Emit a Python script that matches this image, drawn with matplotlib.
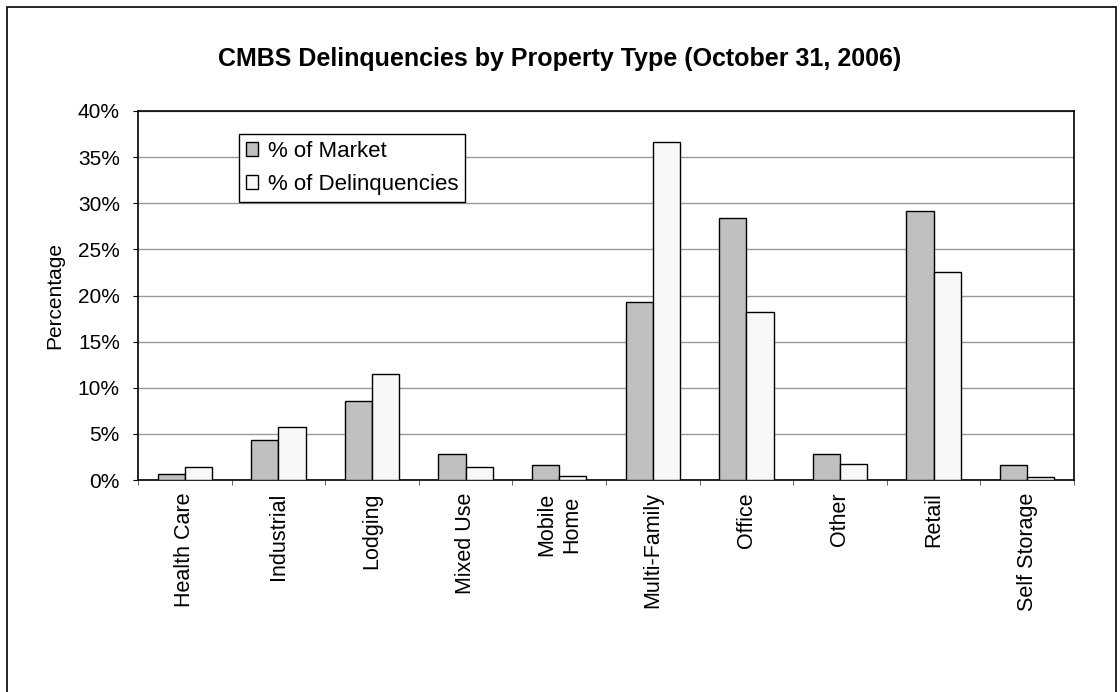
import numpy as np
import matplotlib.pyplot as plt
from matplotlib.patches import Rectangle

plt.rcParams['font.family'] = ['Liberation Sans', 'DejaVu Sans']

categories = ["Health Care", "Industrial", "Lodging", "Mixed Use", "Mobile\nHome",
              "Multi-Family", "Office", "Other", "Retail", "Self Storage"]
market = [0.65, 4.33, 8.6, 2.8, 1.6, 19.3, 28.35, 2.8, 29.2, 1.66]
delinquencies = [1.4, 5.7, 11.45, 1.4, 0.43, 36.6, 18.2, 1.7, 22.5, 0.3]

fig = plt.figure(figsize=(11.2, 6.92), dpi=100)
ax = fig.add_axes([138 / 1120, 212 / 692, 936 / 1120, 369 / 692])

# outer chart border (bottom runs off the image)
fig.patches.append(Rectangle((7 / 1120, -0.05), 1109 / 1120, (685 / 692) + 0.05,
                             transform=fig.transFigure, fill=False,
                             edgecolor='black', linewidth=1.2))

x = np.arange(len(categories))
w = 0.29
ax.bar(x - w / 2, market, w, color='#c0c0c0', edgecolor='black', linewidth=1,
       label='% of Market', zorder=3)
ax.bar(x + w / 2, delinquencies, w, color='#f8f8f8', edgecolor='black', linewidth=1,
       label='% of Delinquencies', zorder=3)

ax.set_xlim(-0.5, len(categories) - 0.5)
ax.set_ylim(0, 40)
ax.set_yticks(np.arange(0, 41, 5))
ax.set_yticklabels([f"{v}%" for v in range(0, 41, 5)], fontsize=15)
ax.yaxis.grid(True, color='#999999', linewidth=1, zorder=0)

ax.set_xticks(x)
ax.set_xticklabels(categories, rotation=90, fontsize=15.5, va='top', ha='center',
                   multialignment='center')
ax.set_xticks(np.arange(-0.5, len(categories), 1), minor=True)
ax.tick_params(axis='x', which='major', length=0, pad=9)
ax.tick_params(axis='x', which='minor', length=3.6, direction='out', color='#444444')
ax.tick_params(axis='y', length=3.6, direction='out', pad=9.5)

for s in ax.spines.values():
    s.set_linewidth(1.2)
    s.set_color('black')

ax.set_ylabel("Percentage", fontsize=15, labelpad=10)
fig.text(0.5, 1 - 66 / 692, "CMBS Delinquencies by Property Type (October 31, 2006)",
         ha='center', va='baseline', fontsize=18, fontweight='bold')

leg = ax.legend(loc='upper left', bbox_to_anchor=((239 - 138) / 936, (480 - 134) / 369),
                borderaxespad=0, fontsize=16, fancybox=False, framealpha=1,
                edgecolor='black', handlelength=0.55, handleheight=0.55,
                handletextpad=0.45, labelspacing=0.55, borderpad=0.3)
leg.get_frame().set_linewidth(1)

fig.savefig("out.png", dpi=100)
